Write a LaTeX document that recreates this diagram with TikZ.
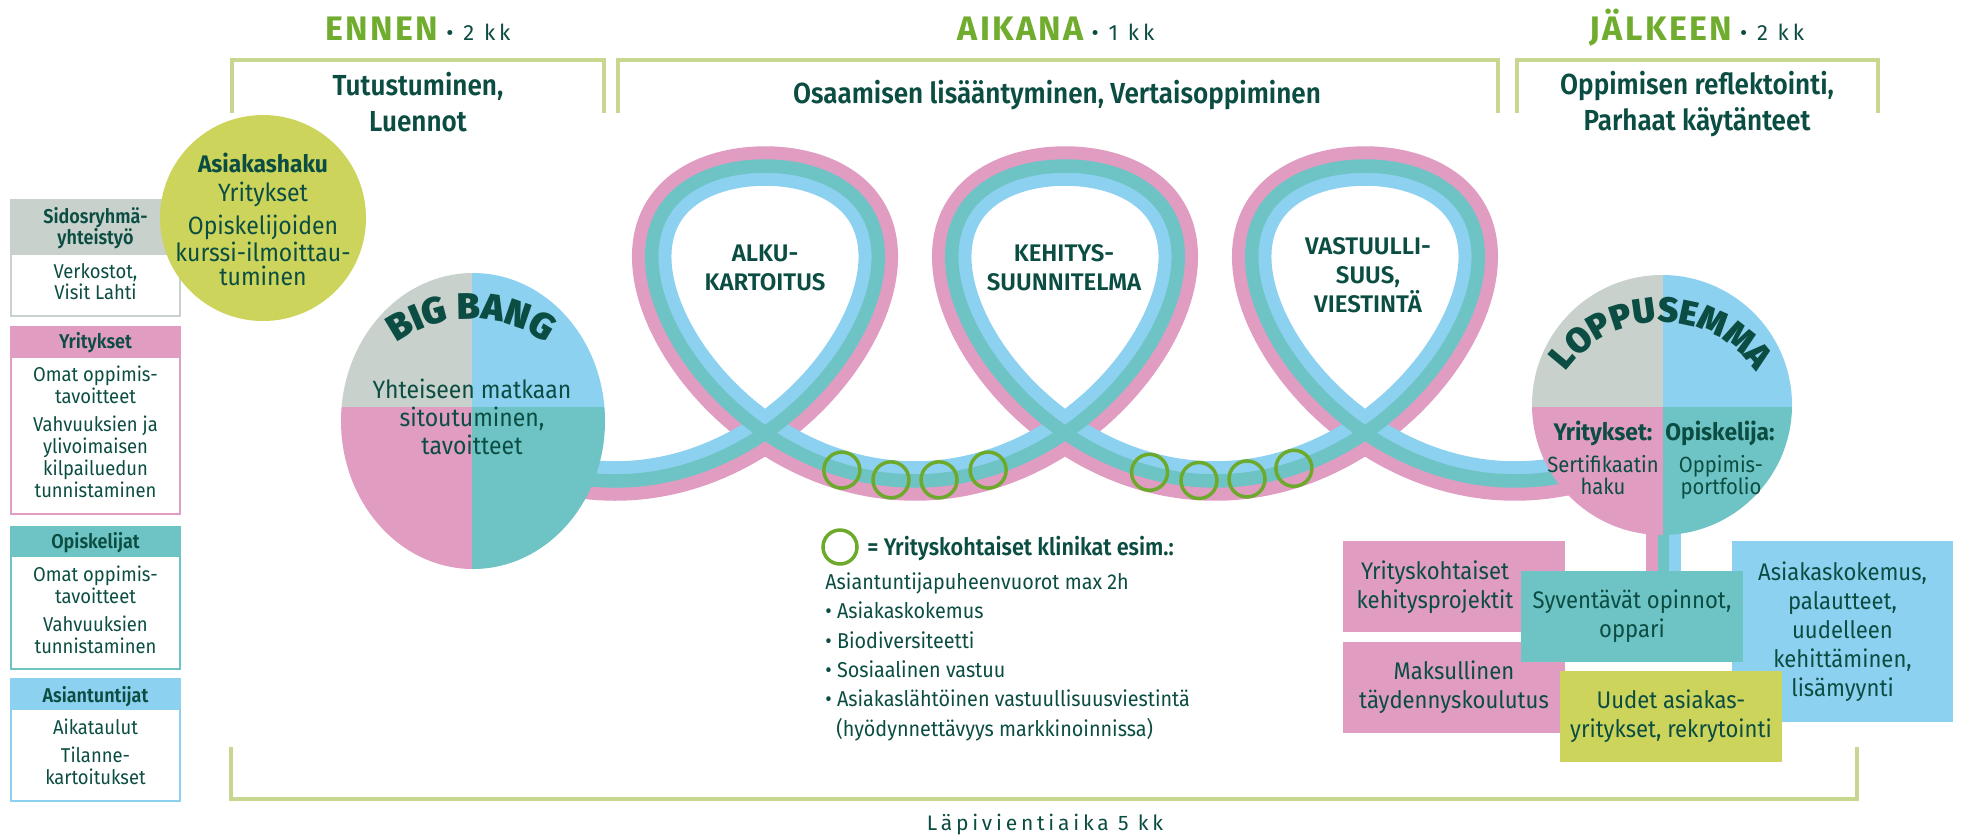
\documentclass[tikz,border=0pt]{standalone}
\usepackage{fontspec}
\setmainfont{Fira Sans}[FakeStretch=0.92, BoldFont={Fira Sans SemiBold}, BoldFeatures={FakeStretch=0.9}]
\newfontfamily\headfont{Fira Sans Bold}[LetterSpace=7]
\newfontfamily\boldfont{Fira Sans Bold}[FakeStretch=0.95]
\newfontfamily\sbfont{Fira Sans SemiBold}
\newfontfamily\spacedfont{Fira Sans}[LetterSpace=18]
\newfontfamily\arcfont{Fira Sans Black}
\usetikzlibrary{decorations.text}
\definecolor{dkg}{HTML}{0B4D42}
\definecolor{hdg}{HTML}{70AC2E}
\definecolor{brkc}{HTML}{C7D78F}
\definecolor{pnk}{HTML}{E09CC1}
\definecolor{tea}{HTML}{6EC4C5}
\definecolor{lbl}{HTML}{8DD1F0}
\definecolor{gry}{HTML}{C8D1CC}
\definecolor{ylw}{HTML}{CDD45B}
\definecolor{cgr}{HTML}{6DAA2C}
\newcommand\fz[2]{\fontsize{#1pt}{#2pt}\selectfont}
\begin{document}
\begin{tikzpicture}[x=0.5pt,y=-0.5pt,
  txt/.style={text=dkg, inner sep=0pt, align=center},
  brack/.style={brkc, line width=2pt},
  clinic/.style={cgr, line width=1.75pt},
  band/.style={line width=6.75pt, line join=round},
  rbox/.style={inner sep=0pt, minimum width=111pt, minimum height=45.5pt, text=dkg, align=center, font=\fz{12}{14.5}},
  declare function={
    ribA(\a)=0.47746+1.82*cos(\a);
    ribB(\a)=-1.575*sin(\a)-0.274*sin(2*\a);
    ribN(\a)=sqrt(ribA(\a)*ribA(\a)+ribB(\a)*ribB(\a));
    ribX(\a,\b)=615+47.746*rad(\a)+182*sin(\a)+\b*ribB(\a)/ribN(\a);
    ribY(\a,\b)=309.8+157.5*cos(\a)+13.7*cos(2*\a)-\b*ribA(\a)/ribN(\a);
  }]
\path[use as bounding box, fill=white] (0,0) rectangle (1961,837);

% brackets
\draw[brack] (232,113) -- (232,60) -- (604,60) -- (604,113);
\draw[brack] (618,113) -- (618,60) -- (1498,60) -- (1498,113);
\draw[brack] (1517,113) -- (1517,60) -- (1878,60) -- (1878,113);
\draw[brack] (231,747) -- (231,799) -- (1857,799) -- (1857,747);

% headings
\node[txt, anchor=base] (hennen) at (418,40) {{\headfont\fz{17}{17}\color{hdg}ENNEN}\hspace{4pt}{\spacedfont\fz{11}{11}• 2 kk}};
\node[txt, anchor=base] (haikana) at (1056,40) {{\headfont\fz{17}{17}\color{hdg}AIKANA}\hspace{4pt}{\spacedfont\fz{11}{11}• 1 kk}};
\node[txt, anchor=base] (hjalkeen) at (1697,40) {{\headfont\fz{17}{17}\color{hdg}JÄLKEEN}\hspace{4pt}{\spacedfont\fz{11}{11}• 2 kk}};
\node[txt, font=\bfseries\fz{14.5}{18}] (sub1) at (418,102.5) {Tutustuminen,\\Luennot};
\node[txt, anchor=base, font=\bfseries\fz{14.5}{18}] (sub2) at (1057,103) {Osaamisen lisääntyminen, Vertaisoppiminen};
\node[txt, font=\bfseries\fz{14.5}{18}] (sub3) at (1697,104) {Oppimisen reflektointi,\\Parhaat käytänteet};

% ribbon
\foreach \s/\c in {-13/pnk, 13/lbl, 0/tea}
  \draw[band, \c] plot[variable=\t, domain=-28:1105, samples=567] ({ribX(\t,\s)},{ribY(\t,\s)});
\foreach \t in {341.5,354,366,378.5,703.5,716,728,740}
  \draw[clinic] ({ribX(\t,0)},{ribY(\t,0)}) circle[radius=18];

% stem under Loppusemma
\fill[pnk] (1646,500) rectangle (1658,575);
\fill[tea] (1658,500) rectangle (1669,575);
\fill[lbl] (1669,500) rectangle (1681,575);

% Big Bang
\begin{scope}
\clip (473,421) ellipse[x radius=132, y radius=148];
\fill[gry] (330,260) rectangle (472,407);
\fill[lbl] (472,260) rectangle (610,407);
\fill[pnk] (330,407) rectangle (472,575);
\fill[tea] (472,407) rectangle (610,575);
\end{scope}
\path[decorate, decoration={text along path, text align=center, text={|\arcfont\fz{18.5}{18.5}\color{dkg}|BIG BANG}}]
  plot[variable=\t, domain=-70:70, samples=71] ({471+128*sin(\t)},{447-128*cos(\t)});
\node[txt, font=\fz{12.5}{14}] (bbt) at (472,417) {Yhteiseen matkaan\\sitoutuminen,\\tavoitteet};

% Loppusemma
\begin{scope}
\clip (1662,405) circle[radius=130];
\fill[gry] (1520,270) rectangle (1663,407);
\fill[lbl] (1663,270) rectangle (1800,407);
\fill[pnk] (1520,407) rectangle (1663,540);
\fill[tea] (1663,407) rectangle (1800,540);
\end{scope}
\path[decorate, decoration={text along path, text align=center, text={|\arcfont\fz{17.5}{17.5}\color{dkg}|LOPPUSEMMA}}]
  plot[variable=\t, domain=-85:85, samples=86] ({1661+115*sin(\t)},{437-115*cos(\t)});
\node[txt, anchor=base, font=\boldfont\fz{12}{12}] (lyr) at (1603,440) {Yritykset:};
\node[txt, anchor=base, font=\boldfont\fz{12}{12}] (lop) at (1720,440) {Opiskelija:};
\node[txt, font=\fz{11}{11}] (lse) at (1603,475.5) {Sertifikaatin\\haku};
\node[txt, font=\fz{11}{11}] (lpo) at (1721,477) {Oppimis-\\portfolio};

% loop labels
\node[txt, font=\sbfont\fz{12}{14.5}] (alku) at (765,267.5) {ALKU-\\KARTOITUS};
\node[txt, font=\sbfont\fz{12}{14.5}] (kehi) at (1064,267.5) {KEHITYS-\\SUUNNITELMA};
\node[txt, font=\sbfont\fz{12}{14.5}] (vast) at (1368,275.5) {VASTUULLI-\\SUUS,\\VIESTINTÄ};

% left boxes
\draw[gry, line width=1pt, fill=white] (11,200) rectangle (180,316);
\fill[gry] (11,200) rectangle (180,255);
\draw[pnk, line width=1pt, fill=white] (11,327) rectangle (180,514);
\fill[pnk] (11,327) rectangle (180,358);
\draw[tea, line width=1pt, fill=white] (11,527) rectangle (180,669);
\fill[tea] (11,527) rectangle (180,557);
\draw[lbl, line width=1pt, fill=white] (11,679) rectangle (180,801);
\fill[lbl] (11,679) rectangle (180,710);
\node[txt, font=\bfseries\fz{10}{10.5}] (sidh) at (95.5,228) {Sidosryhmä-\\yhteistyö};
\node[txt, font=\fz{10}{10.5}] (sidb) at (95.5,282) {Verkostot,\\Visit Lahti};
\node[txt, anchor=base, font=\bfseries\fz{10}{10}] (yrh) at (95.5,348) {Yritykset};
\node[txt, font=\fz{10}{11}] (yrb) at (95.5,432) {Omat oppimis-\\tavoitteet\\[3pt]Vahvuuksien ja\\ylivoimaisen\\kilpailuedun\\tunnistaminen};
\node[txt, anchor=base, font=\bfseries\fz{10}{10}] (oph) at (95.5,548) {Opiskelijat};
\node[txt, font=\fz{10}{11}] (opb) at (95.5,609.5) {Omat oppimis-\\tavoitteet\\[3pt]Vahvuuksien\\tunnistaminen};
\node[txt, anchor=base, font=\bfseries\fz{10}{10}] (ash) at (95.5,702) {Asiantuntijat};
\node[txt, font=\fz{10}{11}] (asb) at (95.5,751.5) {Aikataulut\\[3pt]Tilanne-\\kartoitukset};

% Asiakashaku
\fill[ylw] (263,218) circle[radius=103];
\node[txt, anchor=base, font=\boldfont\fz{12}{12}] (ahh) at (263,172) {Asiakashaku};
\node[txt, anchor=base, font=\fz{12.5}{12.5}] (ahy) at (263,201) {Yritykset};
\node[txt, font=\fz{12.5}{12}] (aho) at (263,250) {Opiskelijoiden\\kurssi-ilmoittau-\\tuminen};

% right boxes
\node[rbox, fill=pnk] (ykbox) at (1454,586.5) {};
\node[txt, font=\fz{12}{14.5}] (yktxt) at (1435,587) {Yrityskohtaiset\\kehitysprojektit};
\node[rbox, fill=pnk] (maks) at (1454,687.5) {Maksullinen\\täydennyskoulutus};
\node[rbox, fill=lbl, minimum width=110.5pt, minimum height=90.5pt] (asko) at (1842.5,631.5) {Asiakaskokemus,\\palautteet,\\uudelleen\\kehittäminen,\\lisämyynti};
\node[rbox, fill=tea] (syv) at (1632,616.5) {Syventävät opinnot,\\oppari};
\node[rbox, fill=ylw] (uud) at (1671,716.5) {Uudet asiakas-\\yritykset, rekrytointi};

% legend
\draw[clinic] (840,547) circle[radius=17];
\node[txt, anchor=base west, font=\bfseries\fz{12}{12}] (legt) at (867,555) {= Yrityskohtaiset klinikat esim.:};
\node[txt, anchor=base west, font=\fz{10.75}{10.75}] (leg0) at (825,589) {Asiantuntijapuheenvuorot max 2h};
\node[txt, anchor=base west, font=\fz{10.75}{10.75}] (leg1) at (825,618.5) {• Asiakaskokemus};
\node[txt, anchor=base west, font=\fz{10.75}{10.75}] (leg2) at (825,648) {• Biodiversiteetti};
\node[txt, anchor=base west, font=\fz{10.75}{10.75}] (leg3) at (825,677) {• Sosiaalinen vastuu};
\node[txt, anchor=base west, font=\fz{10.75}{10.75}] (leg4) at (825,706.5) {• Asiakaslähtöinen vastuullisuusviestintä};
\node[txt, anchor=base west, font=\fz{10.75}{10.75}] (leg5) at (836,736) {(hyödynnettävyys markkinoinnissa)};

% bottom label
\node[txt, anchor=base, font=\spacedfont\fz{10.5}{10.5}] (lapi) at (1045,830) {Läpivientiaika 5 kk};
\end{tikzpicture}
\end{document}
